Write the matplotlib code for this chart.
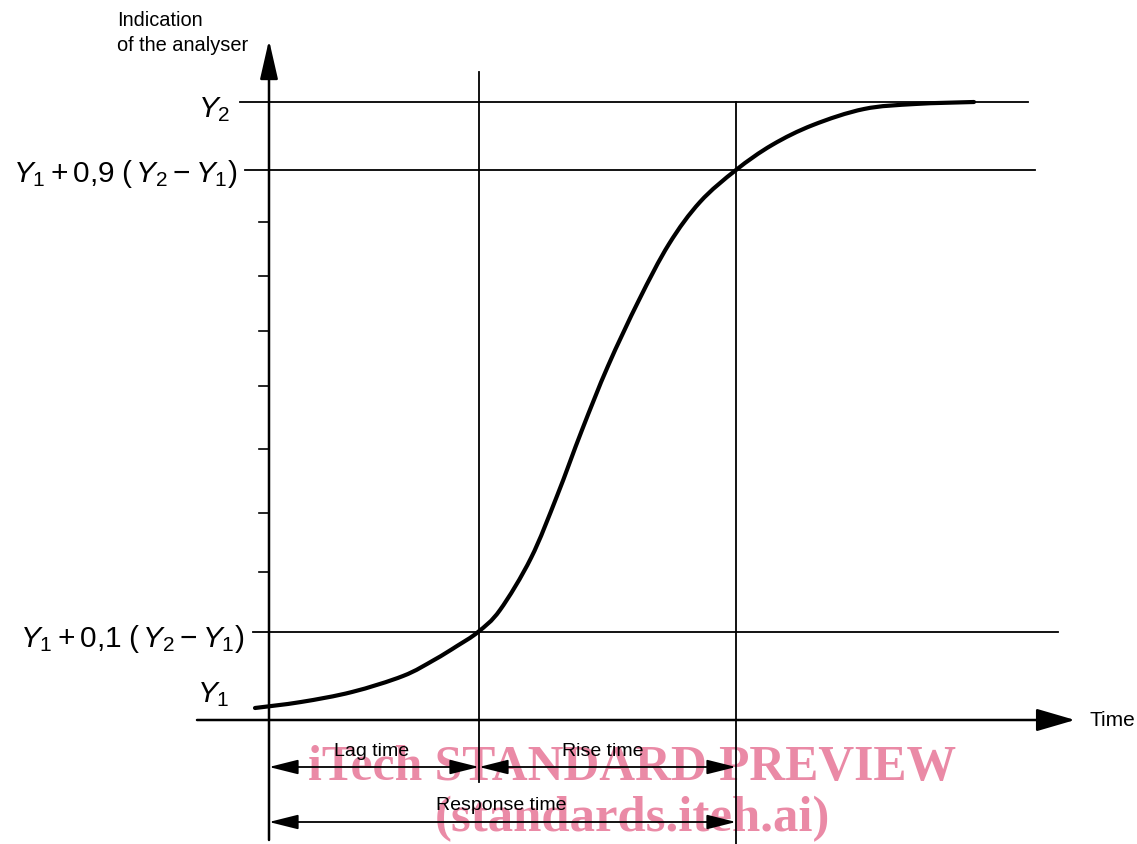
import matplotlib
matplotlib.use('Agg')
import numpy as np
import matplotlib.pyplot as plt
from matplotlib.patches import FancyArrowPatch, ArrowStyle, PathPatch
from matplotlib.path import Path

# schematic values (arbitrary units): time t, analyser indication v
curve_t = [-0.14, 0.32, 0.83, 1.34, 1.65, 1.88, 2.09, 2.31, 2.62, 2.88, 3.13,
           3.39, 3.70, 4.00, 4.31, 4.67, 5.03, 5.44, 5.95, 6.46, 7.05]
curve_v = [0.12, 0.18, 0.28, 0.44, 0.60, 0.74, 0.88, 1.10, 1.62, 2.24, 2.90,
           3.54, 4.20, 4.76, 5.18, 5.50, 5.75, 5.95, 6.11, 6.16, 6.18]

level_v = [6.18, 5.50, 0.88]            # Y2, Y1+0.9(Y2-Y1), Y1+0.1(Y2-Y1)
level_start = [-0.29, -0.24, -0.16]
level_end = [7.59, 7.66, 7.89]
level_labels = [r'$Y_2$', r'$Y_1 + 0{,}9\;(\,Y_2 - Y_1)$', r'$Y_1 + 0{,}1\;(\,Y_2 - Y_1)$']
y1_v = 0.12
y1_label = r'$Y_1$'

tick_v = [4.98, 4.44, 3.89, 3.34, 2.71, 2.07, 1.48]

lag_end = 2.10       # time at which 10 % is reached
response_end = 4.67  # time at which 90 % is reached

plt.rcParams['mathtext.fontset'] = 'custom'
plt.rcParams['mathtext.rm'] = 'Liberation Sans'
plt.rcParams['mathtext.it'] = 'Liberation Sans:italic'
plt.rcParams['font.family'] = 'Liberation Sans'

fig = plt.figure(figsize=(11.37, 8.44), dpi=100)
ax = fig.add_axes([0, 0, 1, 1])
ax.set_xlim(-2.69, 8.68)
ax.set_ylim(-1.24, 7.20)
ax.axis('off')

def arrow(p0, p1, style, hl, hw, lw):
    ax.add_patch(FancyArrowPatch(p0, p1, arrowstyle=ArrowStyle(style, head_length=hl, head_width=hw),
                                 mutation_scale=1, shrinkA=0, shrinkB=0, lw=lw,
                                 color='black', zorder=5))

# axes with arrows
arrow((0, -1.20), (0, 6.80), '-|>', 24, 5.5, 1.8)
arrow((-0.72, 0.0), (8.06, 0.0), '-|>', 24, 7, 1.8)

# ticks on the indication axis
for v in tick_v:
    ax.plot([-0.10, 0], [v, v], color='black', lw=1.2, zorder=4)

# horizontal level lines
for v, a, b in zip(level_v, level_start, level_end):
    ax.plot([a, b], [v, v], color='black', lw=1.3, zorder=4)

# vertical lines at end of lag time and response time
ax.plot([lag_end, lag_end], [6.48, -0.62], color='black', lw=1.3, zorder=4)
ax.plot([response_end, response_end], [6.18, -1.24], color='black', lw=1.3, zorder=4)

# response curve, drawn as a smooth bezier path through the read points
pts = np.column_stack([curve_t, curve_v])
verts = [pts[0]]
codes = [Path.MOVETO]
n = len(pts)
for i in range(n - 1):
    p0 = pts[max(i - 1, 0)]
    p1 = pts[i]
    p2 = pts[i + 1]
    p3 = pts[min(i + 2, n - 1)]
    verts += [p1 + (p2 - p0) / 6, p2 - (p3 - p1) / 6, p2]
    codes += [Path.CURVE4] * 3
ax.add_patch(PathPatch(Path(verts, codes), fill=False, lw=3.0, edgecolor='black',
                       capstyle='round', joinstyle='round', zorder=6))

# dimension arrows
arrow((0, -0.47), (lag_end, -0.47), '<|-|>', 18, 4.5, 1.3)
arrow((lag_end, -0.47), (response_end, -0.47), '<|-|>', 18, 4.5, 1.3)
arrow((0, -1.02), (response_end, -1.02), '<|-|>', 18, 4.5, 1.3)

ax.text(1.03, -0.32, 'Lag time', ha='center', va='center', fontsize=14, zorder=7)
ax.text(3.34, -0.32, 'Rise time', ha='center', va='center', fontsize=14, zorder=7)
ax.text(2.32, -0.86, 'Response time', ha='center', va='center', fontsize=14, zorder=7)
ax.text(8.21, 0.0, 'Time', ha='left', va='center', fontsize=15, zorder=7)
ax.text(-1.52, 7.09, 'Indication\nof the analyser', ha='left', va='top', fontsize=14.4,
        linespacing=1.38, zorder=7)

# level labels
label_off = [-0.08, -0.04, -0.07]
label_x = [-0.39, -0.31, -0.24]
for v, lab, dy, lx in zip(level_v, level_labels, label_off, label_x):
    ax.text(lx, v + dy, lab, ha='right', va='center', fontsize=21.5, zorder=7)
ax.text(-0.39, y1_v + 0.13, y1_label, ha='right', va='center', fontsize=21.5, zorder=7)

# watermark
wm = '#EA8AA6'
ax.text(3.63, -0.48, 'iTech STANDARD PREVIEW', ha='center', va='center', fontsize=35.7,
        family='Liberation Serif', weight='bold', color=wm, zorder=1)
ax.text(3.63, -0.99, '(standards.iteh.ai)', ha='center', va='center', fontsize=36.5,
        family='Liberation Serif', weight='bold', color=wm, zorder=1)

fig.savefig('out.png', dpi=100)
